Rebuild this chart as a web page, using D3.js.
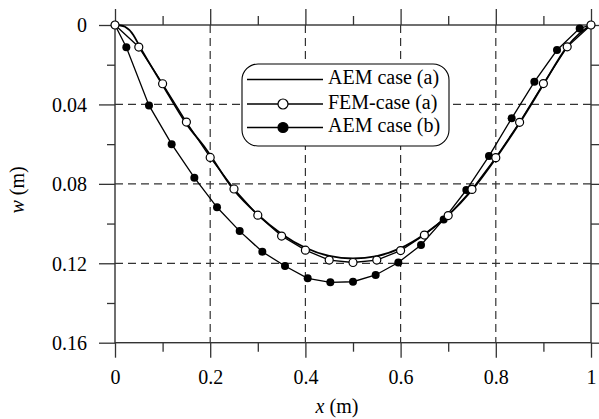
<!DOCTYPE html>
<html>
<head>
<meta charset="utf-8">
<script src="https://cdn.jsdelivr.net/npm/d3@7"></script>
<style>
  body { margin: 0; background: #fff; }
  svg { display: block; }
  text { font-family: "Liberation Serif", "Times New Roman", serif; fill: #000; }
</style>
</head>
<body>
<div id="chart"></div>
<script>
// FEM-case (a), open circles
var femX = [0, 0.05, 0.1, 0.15, 0.2, 0.25, 0.3, 0.35, 0.4, 0.45, 0.5, 0.55, 0.6, 0.65, 0.7, 0.75, 0.8, 0.85, 0.9, 0.95, 1];
var femW = [0, 0.0111, 0.0296, 0.0489, 0.0667, 0.0826, 0.0958, 0.1063, 0.1134, 0.1184, 0.1196, 0.1184, 0.1136, 0.1058, 0.0960, 0.0828, 0.0668, 0.0490, 0.0295, 0.0110, 0];

// AEM case (a), plain line
var aemAX = [0, 0.01, 0.021, 0.0385, 0.05, 0.1, 0.15, 0.19, 0.25, 0.3, 0.35, 0.4, 0.45, 0.5, 0.55, 0.6, 0.65, 0.7, 0.75, 0.8, 0.85, 0.9, 0.95, 0.975, 1];
var aemAW = [0, 0.0002, 0.0009, 0.0050, 0.0100, 0.0302, 0.0498, 0.0621, 0.0832, 0.0955, 0.1052, 0.1122, 0.1163, 0.1176, 0.1164, 0.1124, 0.1054, 0.0958, 0.0832, 0.0672, 0.0494, 0.0300, 0.0108, 0.0045, 0];

// AEM case (b), filled circles
var aemBX = [0, 0.0238, 0.0714, 0.119, 0.1667, 0.2143, 0.2619, 0.3095, 0.3571, 0.4048, 0.4524, 0.5, 0.5476, 0.5952, 0.6429, 0.6905, 0.7381, 0.7857, 0.8333, 0.881, 0.9286, 0.9762, 1];
var aemBW = [0, 0.0112, 0.0405, 0.0600, 0.0769, 0.0918, 0.1038, 0.1142, 0.1214, 0.1276, 0.1296, 0.1293, 0.1259, 0.1196, 0.1108, 0.0979, 0.0831, 0.0660, 0.0470, 0.0286, 0.0126, 0.0017, 0];

var xMajor = [0, 0.2, 0.4, 0.6, 0.8, 1];
var xMinor = [0.1, 0.3, 0.5, 0.7, 0.9];
var yMajor = [0, 0.04, 0.08, 0.12, 0.16];
var yMinor = [0.02, 0.06, 0.1, 0.14];
var xTickLabels = ["0", "0.2", "0.4", "0.6", "0.8", "1"];
var yTickLabels = ["0", "0.04", "0.08", "0.12", "0.16"];
var legendLabels = ["AEM case (a)", "FEM-case (a)", "AEM case (b)"];

var svgWidth = 599, svgHeight = 419;
var margin = {top: 25, right: 8, bottom: 76, left: 115};
var width = 476, height = 317.7;

var svg = d3.select("#chart").append("svg")
    .attr("width", svgWidth)
    .attr("height", svgHeight);

var g = svg.append("g")
    .attr("transform", "translate(" + margin.left + "," + margin.top + ")");

var xscale = d3.scaleLinear().domain([0, 1]).range([0, width]);
var yscale = d3.scaleLinear().domain([0, 0.16]).range([0, height]);

var axisColour = "#333";

// dashed grid
g.selectAll(".gridx")
    .data(xMajor.slice(1, -1))
    .enter().append("line")
    .attr("x1", d => xscale(d)).attr("x2", d => xscale(d))
    .attr("y1", 0).attr("y2", height)
    .style("stroke", axisColour).style("stroke-width", 1.2)
    .style("stroke-dasharray", "8,5");

g.selectAll(".gridy")
    .data(yMajor.slice(1, -1))
    .enter().append("line")
    .attr("x1", 0).attr("x2", width)
    .attr("y1", d => yscale(d)).attr("y2", d => yscale(d))
    .style("stroke", axisColour).style("stroke-width", 1.2)
    .style("stroke-dasharray", "8,5");

function styleAxis(sel) {
    sel.select(".domain").remove();
    sel.selectAll("line").style("stroke", axisColour).style("stroke-width", 1.3);
}

// bottom
var gB = g.append("g").attr("transform", "translate(0," + height + ")")
    .call(d3.axisBottom(xscale).tickValues(xMajor).tickSize(15)
        .tickFormat((d, i) => xTickLabels[i]));
styleAxis(gB);
gB.selectAll("text").attr("y", 27).attr("dy", "0.71em")
    .style("font-size", "20px").style("font-family", "Liberation Serif");
var gBm = g.append("g").attr("transform", "translate(0," + height + ")")
    .call(d3.axisBottom(xscale).tickValues(xMinor).tickSize(9).tickFormat(""));
styleAxis(gBm);

// top
var gT = g.append("g")
    .call(d3.axisTop(xscale).tickValues(xMajor).tickSize(16).tickFormat(""));
styleAxis(gT);
var gTm = g.append("g")
    .call(d3.axisTop(xscale).tickValues(xMinor).tickSize(9).tickFormat(""));
styleAxis(gTm);

// left
var gL = g.append("g")
    .call(d3.axisLeft(yscale).tickValues(yMajor).tickSize(16)
        .tickFormat((d, i) => yTickLabels[i]));
styleAxis(gL);
gL.selectAll("text").attr("x", -28).attr("dy", "0.34em")
    .style("font-size", "20px").style("font-family", "Liberation Serif");
var gLm = g.append("g")
    .call(d3.axisLeft(yscale).tickValues(yMinor).tickSize(8).tickFormat(""));
styleAxis(gLm);

// right
var gR = g.append("g").attr("transform", "translate(" + width + ",0)")
    .call(d3.axisRight(yscale).tickValues(yMinor.concat(yMajor)).tickSize(8).tickFormat(""));
styleAxis(gR);

// frame
g.append("rect")
    .attr("width", width).attr("height", height)
    .style("fill", "none").style("stroke", axisColour).style("stroke-width", 1.4);

// series
var lineLinear = d3.line().x(d => xscale(d[0])).y(d => yscale(d[1]));
var lineSmooth = d3.line().x(d => xscale(d[0])).y(d => yscale(d[1])).curve(d3.curveMonotoneX);

var femData = femX.map((x, i) => [x, femW[i]]);
var aemAData = aemAX.map((x, i) => [x, aemAW[i]]);
var aemBData = aemBX.map((x, i) => [x, aemBW[i]]);

g.append("path").datum(aemBData).attr("d", lineLinear)
    .style("fill", "none").style("stroke", "#000").style("stroke-width", 1.3);
g.append("path").datum(femData).attr("d", lineLinear)
    .style("fill", "none").style("stroke", "#000").style("stroke-width", 1.3);
g.append("path").datum(aemAData).attr("d", lineSmooth)
    .style("fill", "none").style("stroke", "#000").style("stroke-width", 1.8);

g.selectAll(".ptB").data(aemBData).enter().append("circle")
    .attr("cx", d => xscale(d[0])).attr("cy", d => yscale(d[1])).attr("r", 4)
    .style("fill", "#000");
g.selectAll(".ptF").data(femData).enter().append("circle")
    .attr("cx", d => xscale(d[0])).attr("cy", d => yscale(d[1])).attr("r", 4)
    .style("fill", "#fff").style("stroke", "#000").style("stroke-width", 1.2);

// legend
var lg = svg.append("g").attr("transform", "translate(242,64)");
lg.append("rect")
    .attr("width", 207).attr("height", 82).attr("rx", 16).attr("ry", 16)
    .style("fill", "#fff").style("stroke", "#000").style("stroke-width", 1.1);
var rows = [15.5, 40, 63.5];
var markers = [null, "#fff", "#000"];
legendLabels.forEach(function (lab, i) {
    lg.append("line").attr("x1", 5).attr("x2", 81)
        .attr("y1", rows[i]).attr("y2", rows[i])
        .style("stroke", "#000").style("stroke-width", 1.4);
    if (markers[i]) {
        lg.append("circle").attr("cx", 41).attr("cy", rows[i]).attr("r", 5)
            .style("fill", markers[i]).style("stroke", "#000").style("stroke-width", 1.2);
    }
    lg.append("text").attr("x", 86).attr("y", rows[i] + 4.5)
        .style("font-size", "20px").text(lab);
});

// axis titles
svg.append("text")
    .attr("x", 337).attr("y", 413).attr("text-anchor", "middle")
    .style("font-size", "20px")
    .html('<tspan font-style="italic">x</tspan> (m)');

svg.append("text")
    .attr("transform", "translate(24,190) rotate(-90)")
    .attr("text-anchor", "middle")
    .style("font-size", "20px")
    .html('<tspan font-style="italic">w</tspan> (m)');
</script>
</body>
</html>
